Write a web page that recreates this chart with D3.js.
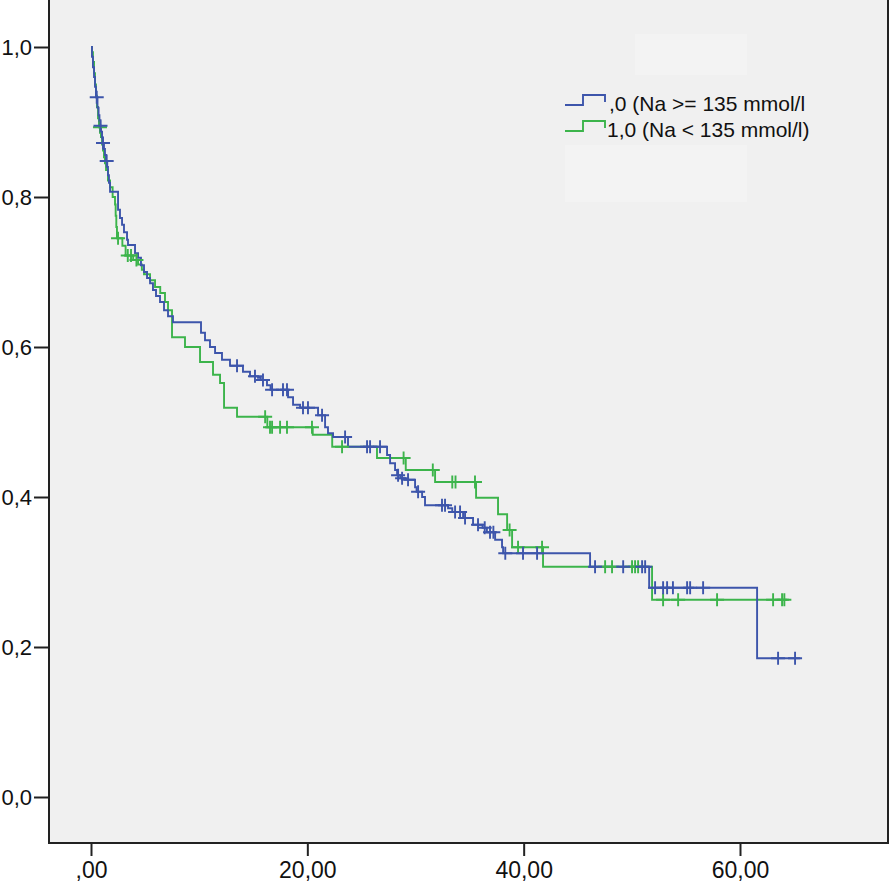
<!DOCTYPE html>
<html>
<head>
<meta charset="UTF-8">
<title>Kaplan-Meier Na</title>
<script src="https://d3js.org/d3.v7.min.js"></script>
<style>
  body { margin: 0; background: #fff; }
  svg { display: block; }
  text { font-family: "Liberation Sans", Arial, sans-serif; fill: #111; }
</style>
</head>
<body>
<script>
// group labels
var groups = [",0 (Na >= 135 mmol/l", "1,0 (Na < 135 mmol/l)"];
var colors = ["#3d55ab", "#3cb44b"];

// steps: [time, survival after the drop]
var blueSteps = [
  [0.09,0.987],[0.18,0.973],[0.28,0.960],[0.37,0.947],[0.46,0.933],[0.60,0.919],[0.70,0.909],[0.78,0.901],
  [0.86,0.895],[0.92,0.887],[1.02,0.879],[1.08,0.872],[1.20,0.864],[1.29,0.856],[1.39,0.848],[1.50,0.840],
  [1.57,0.829],[1.66,0.819],[1.76,0.807],[2.50,0.783],[2.68,0.772],[2.87,0.763],[3.05,0.753],[3.33,0.743],
  [3.42,0.736],[4.07,0.725],[4.35,0.719],[4.62,0.709],[4.90,0.700],[5.18,0.692],[5.46,0.685],[5.73,0.676],
  [6.01,0.668],[6.38,0.660],[6.75,0.649],[7.12,0.641],[7.58,0.633],[10.17,0.619],[10.54,0.609],[11.00,0.600],
  [11.47,0.592],[12.11,0.583],[12.85,0.575],[14.05,0.567],[14.70,0.561],[15.44,0.559],[15.70,0.556],[16.27,0.549],
  [16.60,0.543],[18.22,0.533],[18.68,0.523],[19.33,0.519],[20.99,0.509],[21.64,0.493],[21.91,0.485],[22.38,0.480],
  [23.76,0.467],[27.37,0.456],[27.65,0.445],[28.11,0.436],[28.30,0.429],[28.60,0.425],[29.03,0.423],[29.96,0.413],
  [30.10,0.407],[30.61,0.400],[30.88,0.389],[33.01,0.385],[33.40,0.380],[34.40,0.372],[35.32,0.363],[36.20,0.359],
  [36.60,0.353],[37.36,0.343],[38.00,0.333],[38.10,0.325],[46.14,0.307],[51.60,0.279],[61.58,0.185]
];
var blueEnd = 65.56;
var blueCensored = [0.53,0.88,1.11,1.45,13.5,15.16,15.9,16.74,17.75,18.12,19.6,20.06,21.36,23.49,25.52,25.8,
  26.72,28.39,28.76,29.31,30.24,32.45,32.73,33.66,34.12,34.58,35.78,36.4,36.89,37.2,38.3,39.94,41.24,
  46.6,49.2,50.95,51.23,52.15,52.89,53.26,53.8,55.11,55.39,56.59,63.52,65.09];

var greenSteps = [
  [0.09,0.993],[0.18,0.980],[0.28,0.965],[0.37,0.950],[0.46,0.935],[0.55,0.920],[0.65,0.905],[0.74,0.893],
  [0.92,0.880],[1.02,0.870],[1.11,0.862],[1.20,0.853],[1.29,0.845],[1.39,0.836],[1.57,0.822],[1.76,0.813],
  [2.00,0.800],[2.22,0.790],[2.28,0.775],[2.34,0.760],[2.40,0.745],[2.90,0.735],[3.20,0.722],[3.90,0.716],
  [4.35,0.710],[4.70,0.703],[4.90,0.697],[5.46,0.689],[5.92,0.680],[6.40,0.672],[6.84,0.660],[7.12,0.649],
  [7.49,0.613],[8.69,0.600],[10.08,0.580],[11.28,0.563],[11.93,0.552],[12.30,0.519],[13.50,0.507],[16.30,0.493],
  [20.50,0.483],[22.30,0.467],[26.44,0.452],[29.10,0.436],[31.81,0.420],[35.60,0.399],[37.63,0.377],[38.47,0.356],
  [38.93,0.333],[41.79,0.307],[51.87,0.263]
];
var greenEnd = 64.36;
var greenCensored = [0.83,2.5,3.4,3.7,4.2,16.1,16.55,16.74,17.48,18.12,20.43,23.21,28.9,31.6,33.4,33.7,35.5,
  38.7,39.48,41.7,47.53,48.17,50.02,50.3,50.58,52.89,54.28,57.88,63.06,63.89,64.1];

var xTicks = [0, 20, 40, 60];
var yTicks = [0, 0.2, 0.4, 0.6, 0.8, 1.0];

var W = 894, H = 885;
var svg = d3.select("body").append("svg").attr("width", W).attr("height", H);

var x = d3.scaleLinear().domain([0, 60]).range([91, 740]);
var y = d3.scaleLinear().domain([0, 1]).range([797, 47]);

// plot area
svg.append("rect").attr("x", 49).attr("y", -2).attr("width", 839).attr("height", 845)
  .attr("fill", "#f0f0f0").attr("stroke", "#222").attr("stroke-width", 2);

// faint legend boxes
svg.append("rect").attr("x", 635).attr("y", 34).attr("width", 112).attr("height", 41).attr("fill", "#f3f3f3");
svg.append("rect").attr("x", 565).attr("y", 145).attr("width", 182).attr("height", 57).attr("fill", "#f3f3f3");

function fmtComma(v, d) {
  var s = v.toFixed(d).replace(".", ",");
  if (s.charAt(0) === "0" && d === 2) s = s.slice(1);
  return s;
}

var xAxis = d3.axisBottom(x).tickValues(xTicks).tickSize(13).tickSizeOuter(0)
  .tickFormat(function(d) { return fmtComma(d, 2); });
var gx = svg.append("g").attr("transform", "translate(0,843)").call(xAxis);
gx.select(".domain").remove();
gx.selectAll(".tick line").attr("stroke", "#222").attr("stroke-width", 2);
gx.selectAll(".tick text").attr("dy", 0).attr("y", 35).style("font-size", "23px")
  .style("font-family", "'Liberation Sans', Arial, sans-serif").attr("fill", "#111");

var yAxis = d3.axisLeft(y).tickValues(yTicks).tickSize(15).tickSizeOuter(0)
  .tickFormat(function(d) { return d.toFixed(1).replace(".", ","); });
var gy = svg.append("g").attr("transform", "translate(49,0)").call(yAxis);
gy.select(".domain").remove();
gy.selectAll(".tick line").attr("stroke", "#222").attr("stroke-width", 2);
gy.selectAll(".tick text").attr("x", -17).attr("dy", "0.36em").style("font-size", "22px")
  .style("font-family", "'Liberation Sans', Arial, sans-serif").attr("fill", "#111");

function stepPath(steps, end) {
  var p = d3.path(), s = 1;
  p.moveTo(x(0), y(1));
  steps.forEach(function(st) {
    p.lineTo(x(st[0]), y(s));
    p.lineTo(x(st[0]), y(st[1]));
    s = st[1];
  });
  p.lineTo(x(end), y(s));
  return p.toString();
}

function survAt(steps, t) {
  var s = 1;
  for (var i = 0; i < steps.length; i++) { if (steps[i][0] <= t) s = steps[i][1]; }
  return s;
}

var series = [
  {steps: greenSteps, end: greenEnd, cens: greenCensored, color: colors[1]},
  {steps: blueSteps, end: blueEnd, cens: blueCensored, color: colors[0]}
];

series.forEach(function(sr) {
  svg.append("path").attr("d", stepPath(sr.steps, sr.end))
    .attr("fill", "none").attr("stroke", sr.color).attr("stroke-width", 1.9);
});

series.forEach(function(sr) {
  var g = svg.append("g").attr("stroke", sr.color).attr("stroke-width", 1.9);
  g.selectAll("path").data(sr.cens).enter().append("path")
    .attr("d", function(t) {
      var cx = x(t), cy = y(survAt(sr.steps, t));
      return "M" + (cx - 7) + "," + cy + "H" + (cx + 7) + "M" + cx + "," + (cy - 6.5) + "V" + (cy + 6.5);
    });
});

// legend
var leg = svg.append("g");
[0, 1].forEach(function(i) {
  var by = i === 0 ? 105 : 131;
  leg.append("path")
    .attr("d", "M565," + by + "H583V" + (by - 10) + "H605V" + (by - 3))
    .attr("fill", "none").attr("stroke", colors[i]).attr("stroke-width", 1.9);
  leg.append("text").attr("x", i === 0 ? 609 : 607).attr("y", by + 6)
    .style("font-size", "21px").text(groups[i]);
});
</script>
</body>
</html>
